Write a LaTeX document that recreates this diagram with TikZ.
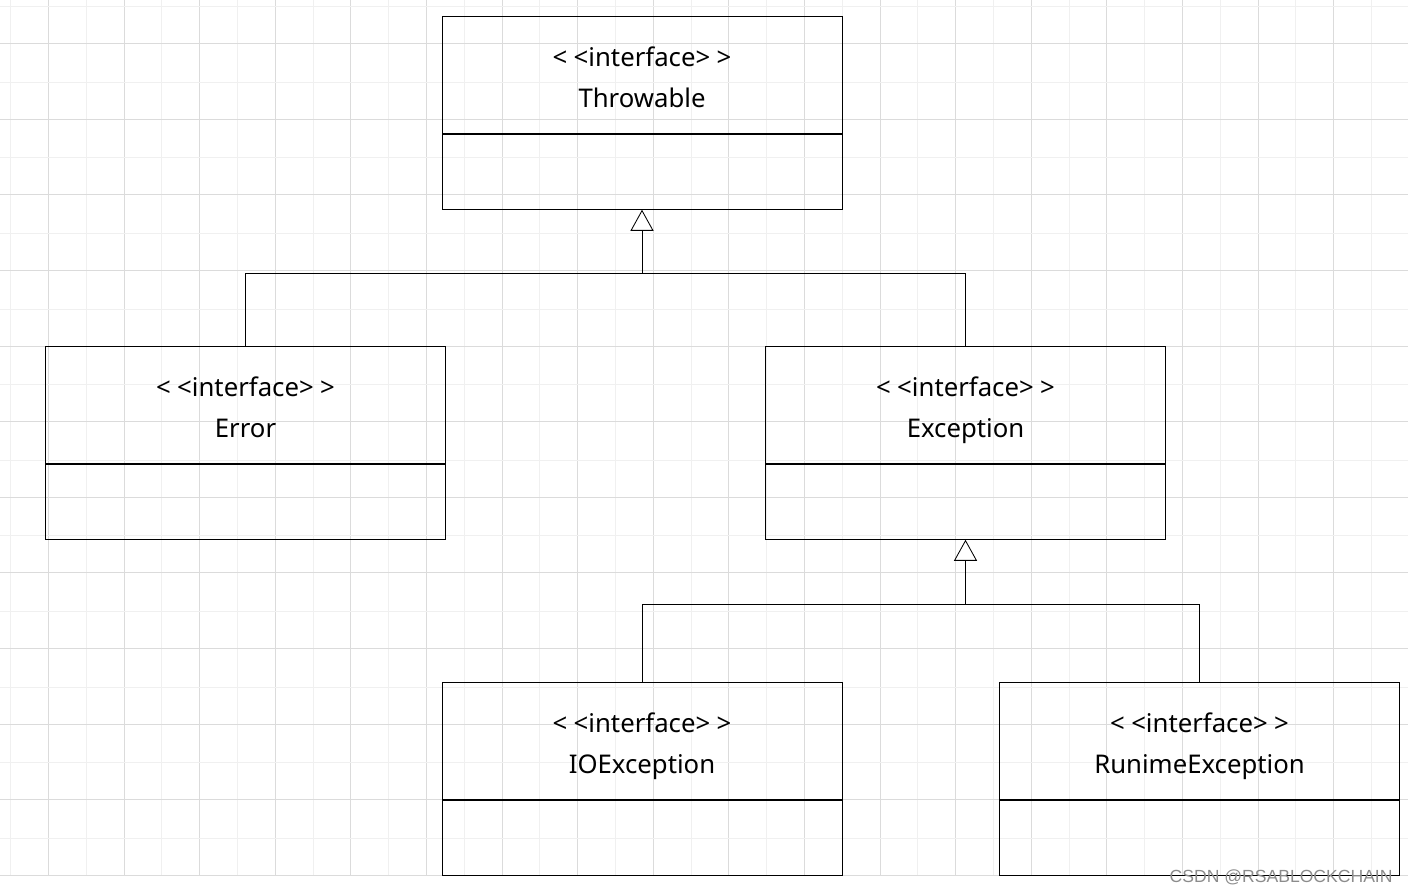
\documentclass[tikz,border=0pt]{standalone}
\usepackage{fontspec}
\setmainfont{Noto Sans}
\newfontfamily\wmfont{Liberation Sans}
\usetikzlibrary{positioning, arrows.meta, calc}

\newcommand{\stereo}{<\hspace{0.25em}<interface>\hspace{0.25em}>}
\newcommand{\topstrut}{\rule[-3mm]{0pt}{12mm}}

\begin{document}
\begin{tikzpicture}[
    x=0.25mm, y=-0.25mm,
    line width=0.6pt,
    cls/.style={draw, minimum width=100mm, minimum height=29.25mm, inner sep=0pt, align=center, font=\fontsize{18.3}{28.45}\selectfont},
    body/.style={draw, minimum width=100mm, minimum height=18.75mm, inner sep=0pt},
    minorgrid/.style={draw=black!6, line width=0.5pt},
    majorgrid/.style={draw=black!14, line width=0.5pt},
    inherit/.style={-{Triangle[open, width=5.75mm, length=5.25mm]}}
]

    \useasboundingbox (0,0) rectangle (1408,894);

    % --- Grade de fundo ---
    \foreach \i in {0,...,18} {
        \draw[minorgrid] ({10.5+75.6*\i},0) -- ({10.5+75.6*\i},875);
        \draw[majorgrid] ({48.3+75.6*\i},0) -- ({48.3+75.6*\i},875);
    }
    \foreach \j in {0,...,11} {
        \draw[minorgrid] (0,{6.5+75.6*\j}) -- (1408,{6.5+75.6*\j});
        \draw[majorgrid] (0,{43.5+75.6*\j}) -- (1408,{43.5+75.6*\j});
    }

    % ==================================================
    % Classes (cabecalho + corpo vazio)
    % ==================================================
    \node[cls] (thr) at (642, 75) {\topstrut\stereo\\Throwable\strut};
    \node[body, below=0pt of thr] (thr_b) {};

    \node[cls] (err) at (245.5, 405) {\topstrut\stereo\\Error\strut};
    \node[body, below=0pt of err] (err_b) {};

    \node[cls] (exc) at (965.5, 405) {\topstrut\stereo\\Exception\strut};
    \node[body, below=0pt of exc] (exc_b) {};

    \node[cls] (ioe) at (642, 741) {\topstrut\stereo\\IOException\strut};
    \node[body, below=0pt of ioe] (ioe_b) {};

    \node[cls] (rte) at (1199.5, 741) {\topstrut\stereo\\RunimeException\strut};
    \node[body, below=0pt of rte] (rte_b) {};

    % --- Heranca: Error, Exception -> Throwable ---
    \coordinate (j1) at ($(thr_b.south)+(0,64)$);
    \draw (err.north) -- (err.north |- j1) -- (exc.north |- j1) -- (exc.north);
    \draw[inherit] (j1) -- (thr_b.south);

    % --- Heranca: IOException, RunimeException -> Exception ---
    \coordinate (j2) at ($(exc_b.south)+(0,65)$);
    \draw (ioe.north) -- (ioe.north |- j2) -- (rte.north |- j2) -- (rte.north);
    \draw[inherit] (j2) -- (exc_b.south);

    % --- Marca d'agua ---
    \node[font=\wmfont\fontsize{12.5}{14}\selectfont, text=black!45, inner sep=0pt, anchor=east] (wm) at (1393, 877) {CSDN @RSABLOCKCHAIN};

\end{tikzpicture}
\end{document}
